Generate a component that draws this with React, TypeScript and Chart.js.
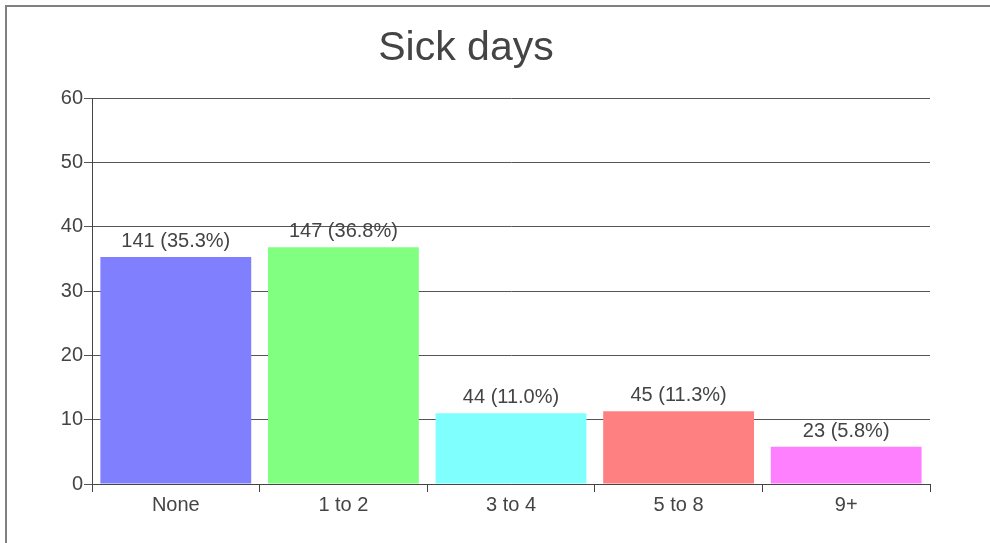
import React, { useEffect, useRef } from "react";
import { Chart, registerables } from "chart.js";

Chart.register(...registerables);

const categories = ["None", "1 to 2", "3 to 4", "5 to 8", "9+"];
const counts = [141, 147, 44, 45, 23];
const percents = [35.3, 36.8, 11.0, 11.3, 5.8];
const barColors = ["#8080ff", "#80ff80", "#80ffff", "#ff8080", "#ff80ff"];
const yTicks = [0, 10, 20, 30, 40, 50, 60];
const titleText = "Sick days";

const FONT = "'Liberation Sans', Arial, sans-serif";

const overlayPlugin = {
  id: "overlay",
  afterDatasetsDraw(chart: any) {
    const ctx = chart.ctx;
    const meta = chart.getDatasetMeta(0);
    ctx.save();
    ctx.fillStyle = "#444";
    ctx.font = `20px ${FONT}`;
    ctx.textAlign = "center";
    ctx.textBaseline = "alphabetic";
    meta.data.forEach((bar: any, i: number) => {
      const label = `${counts[i]} (${percents[i].toFixed(1)}%)`;
      ctx.fillText(label, bar.x, bar.y - 10);
    });
    ctx.font = `41px ${FONT}`;
    ctx.fillText(titleText, 466, 60);
    ctx.restore();
  },
};

export default function App() {
  const ref = useRef<HTMLCanvasElement | null>(null);
  useEffect(() => {
    if (!ref.current) return;
    const chart = new Chart(ref.current, {
      type: "bar",
      data: {
        labels: categories,
        datasets: [
          {
            data: percents,
            backgroundColor: barColors,
            borderWidth: 0,
            barPercentage: 0.9,
            categoryPercentage: 1,
          },
        ],
      },
      options: {
        animation: false,
        responsive: false,
        layout: { padding: { left: 0, right: 60, top: 98, bottom: 0 } },
        plugins: {
          legend: { display: false },
          title: { display: false },
          tooltip: { enabled: false },
        },
        scales: {
          x: {
            offset: true,
            grid: {
              offset: true,
              drawOnChartArea: false,
              drawTicks: true,
              tickLength: 8,
              color: "#444",
            },
            border: { display: true, color: "#444", width: 1 },
            ticks: {
              color: "#444",
              font: { family: FONT, size: 20 },
              padding: 1,
            },
            afterFit: (scale: any) => {
              scale.height = 59;
            },
          },
          y: {
            min: 0,
            max: 60,
            afterBuildTicks: (scale: any) => {
              scale.ticks = yTicks.map((v) => ({ value: v }));
            },
            grid: {
              color: "#555",
              drawTicks: true,
              tickLength: 8,
            },
            border: { display: true, color: "#444", width: 1 },
            ticks: {
              color: "#444",
              font: { family: FONT, size: 20 },
              padding: 1,
            },
            afterFit: (scale: any) => {
              scale.width = 92;
            },
          },
        },
      },
      plugins: [overlayPlugin],
    });
    return () => chart.destroy();
  }, []);

  return (
    <div
      style={{
        position: "fixed",
        left: 0,
        top: 0,
        width: 990,
        height: 543,
        background: "#fff",
        overflow: "hidden",
      }}
    >
      <div
        style={{
          position: "absolute",
          left: 5,
          top: 5,
          width: 1100,
          height: 700,
          border: "2px solid #808080",
          boxSizing: "border-box",
        }}
      />
      <canvas
        ref={ref}
        width={990}
        height={543}
        style={{ position: "absolute", left: 0, top: 0, display: "block" }}
      />
    </div>
  );
}
